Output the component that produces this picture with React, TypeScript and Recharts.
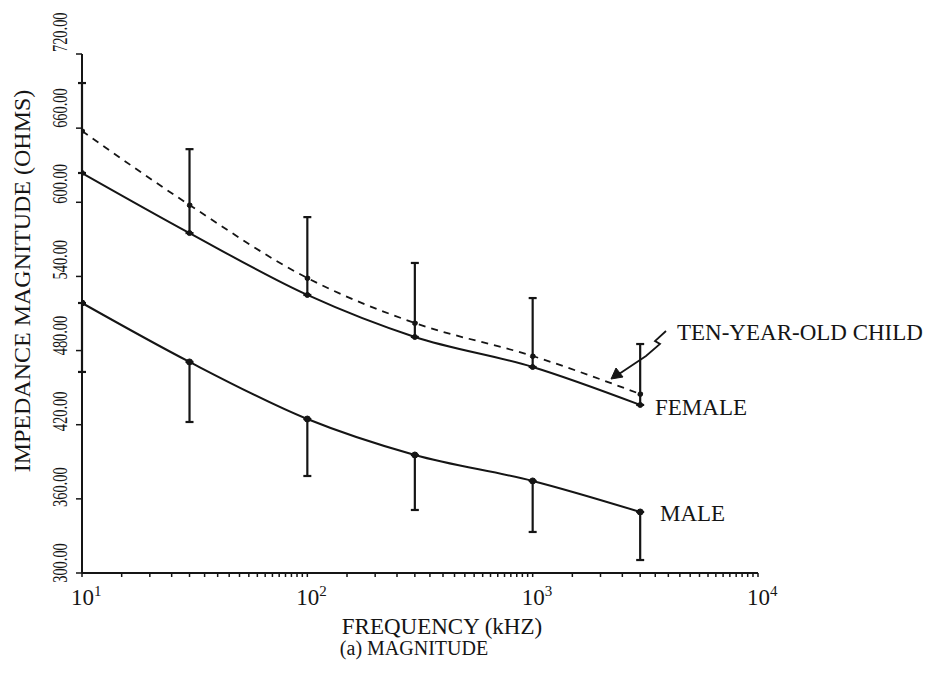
import { ComposedChart, Line, XAxis, YAxis, ErrorBar, Customized } from 'recharts';

// frequency (kHz) of each measurement
const freqs = [10, 30, 100, 300, 1000, 3000];
// impedance magnitude (ohms)
const femaleOhms = [623.7, 575.1, 525.0, 491.0, 466.7, 436.0];
const childOhms = [657.7, 597.8, 538.7, 502.3, 475.6, 444.9];
const femaleUpper = [696.5, 643.0, 588.0, 550.9, 522.5, 485.3];
const maleOhms = [518.5, 470.8, 424.6, 395.5, 374.5, 349.4];
const maleLower = [462.7, 422.2, 378.5, 351.0, 333.2, 310.5];

const yTicks = [300, 360, 420, 480, 540, 600, 660, 720];
const decades = [10, 100, 1000];
const minorSteps = [1.5, 2, 2.5, 3, 3.5, 4, 4.5, 5, 5.5, 6, 6.5, 7, 7.5, 8, 8.5, 9, 9.5];

const xTicks = [
  ...decades.flatMap((d) => [d, ...minorSteps.map((m) => d * m)]),
  10000,
];

const data = freqs.map((f, i) => ({
  freq: f,
  female: femaleOhms[i],
  child: childOhms[i],
  male: maleOhms[i],
  femaleErr: [0, femaleUpper[i] - femaleOhms[i]],
  maleErr: [maleOhms[i] - maleLower[i], 0],
}));

const INK = '#151515';
const FONT = '"Liberation Serif", "DejaVu Serif", serif';

function XTick(props: any) {
  const { x, y, payload } = props;
  const v = payload.value;
  const lg = Math.log10(v);
  const exp = Math.round(lg);
  const major = Math.abs(lg - exp) < 1e-6;
  return (
    <g>
      <line x1={x} x2={x} y1={y} y2={y + 4} stroke={INK} strokeWidth={1.5} />
      {major && (
        <text x={x - 11} y={y + 32} fontFamily={FONT} fontSize={23} fill={INK}>
          10
          <tspan dy={-9} fontSize={15}>
            {exp}
          </tspan>
        </text>
      )}
    </g>
  );
}

function YTick(props: any) {
  const { x, y, payload } = props;
  // the scanned labels drift a little above their ticks toward the top
  const shift = 10 + (payload.value - 300) * 0.028;
  return (
    <g>
      <line x1={x - 6} x2={x} y1={y} y2={y} stroke={INK} strokeWidth={1.5} />
      <text
        transform={`translate(${x - 15},${y - shift}) rotate(-90) scale(0.72,1)`}
        textAnchor="middle"
        fontFamily={FONT}
        fontSize={20}
        fill={INK}
      >
        {payload.value.toFixed(2)}
      </text>
    </g>
  );
}

function Annotations() {
  return (
    <g fontFamily={FONT} fill={INK}>
      <text transform="translate(30,281) rotate(-90)" textAnchor="middle" fontSize={24}>
        IMPEDANCE MAGNITUDE (OHMS)
      </text>
      <text x={442} y={634} textAnchor="middle" fontSize={23}>
        FREQUENCY (kHZ)
      </text>
      <text x={414} y={655} textAnchor="middle" fontSize={20}>
        (a) MAGNITUDE
      </text>
      <text x={677} y={340} fontSize={23}>
        TEN-YEAR-OLD CHILD
      </text>
      <text x={655} y={415} fontSize={23}>
        FEMALE
      </text>
      <text x={660} y={521} fontSize={23}>
        MALE
      </text>
      <path
        d="M666 331 L655 341 L660 344 L646 356 L619 374"
        fill="none"
        stroke={INK}
        strokeWidth={1.8}
      />
      <path d="M611 379 L616 368 L623 377 Z" fill={INK} stroke={INK} strokeWidth={1} />
    </g>
  );
}

export default function App() {
  return (
    <div style={{ width: 943, height: 677, background: '#fff' }}>
      <style>{`body{margin:0}`}</style>
      <ComposedChart
        width={943}
        height={677}
        data={data}
        margin={{ top: 54, right: 185, bottom: 74, left: 22 }}
      >
        <XAxis
          dataKey="freq"
          type="number"
          scale="log"
          domain={[10, 10000]}
          ticks={xTicks}
          interval={0}
          allowDataOverflow
          tickLine={false}
          tickSize={0}
          tickMargin={0}
          height={30}
          axisLine={{ stroke: INK, strokeWidth: 2 }}
          tick={<XTick />}
        />
        <YAxis
          type="number"
          domain={[300, 720]}
          ticks={yTicks}
          interval={0}
          allowDataOverflow
          tickLine={false}
          tickSize={0}
          tickMargin={0}
          width={60}
          axisLine={{ stroke: INK, strokeWidth: 2 }}
          tick={<YTick />}
        />
        <Line
          dataKey="child"
          type="monotone"
          stroke={INK}
          strokeWidth={1.8}
          strokeDasharray="7 6"
          dot={{ r: 2.5, fill: INK, stroke: INK, strokeWidth: 1 }}
          isAnimationActive={false}
        />
        <Line
          dataKey="female"
          type="monotone"
          stroke={INK}
          strokeWidth={2}
          dot={{ r: 2.5, fill: INK, stroke: INK, strokeWidth: 1 }}
          isAnimationActive={false}
        >
          <ErrorBar dataKey="femaleErr" direction="y" width={4} stroke={INK} strokeWidth={2.2} />
        </Line>
        <Line
          dataKey="male"
          type="monotone"
          stroke={INK}
          strokeWidth={2}
          dot={{ r: 3, fill: INK, stroke: INK, strokeWidth: 1 }}
          isAnimationActive={false}
        >
          <ErrorBar dataKey="maleErr" direction="y" width={4} stroke={INK} strokeWidth={2.2} />
        </Line>
        <Customized component={Annotations} />
      </ComposedChart>
    </div>
  );
}
